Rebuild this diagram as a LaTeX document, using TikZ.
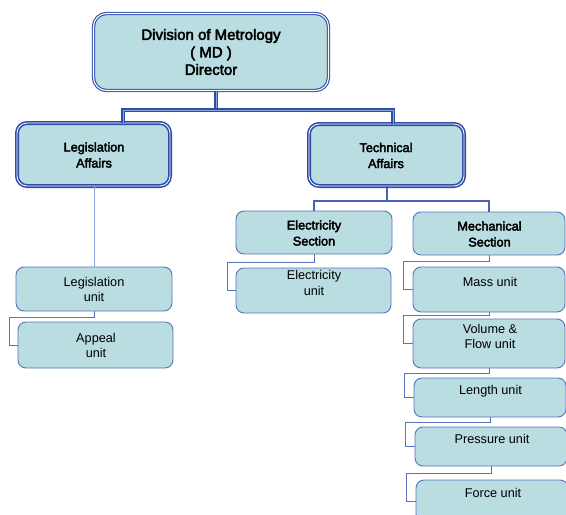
\documentclass[tikz,border=0pt]{standalone}
\usepackage{fontspec}
\setmainfont{Liberation Sans}
\newfontfamily\headfont[FakeBold=3]{Liberation Sans}
\definecolor{boxfill}{HTML}{B9DDE1}
\definecolor{darkedge}{HTML}{2F4DA8}
\definecolor{unitedge}{HTML}{5873BE}
\definecolor{thinlink}{HTML}{8EA6DC}
\definecolor{midlink}{HTML}{4A62B5}
\begin{document}
\begin{tikzpicture}[x=1pt,y=-1pt,
  box/.style={fill=boxfill, inner sep=0pt, outer sep=0pt},
  dirbox/.style={box, draw=darkedge, line width=1.1pt, double=white, double distance=1.1pt, rounded corners=13pt},
  affbox/.style={box, draw=darkedge, line width=1.6pt, double=white, double distance=0.8pt, rounded corners=10pt},
  unitbox/.style={box, draw=unitedge, line width=0.9pt, rounded corners=8pt},
  dirtxt/.style={align=center, inner sep=0pt, font=\headfont\fontsize{15}{17.5}\selectfont},
  headtxt/.style={align=center, inner sep=0pt, font=\headfont\fontsize{12.7}{16}\selectfont},
  txt/.style={align=center, inner sep=0pt, font=\fontsize{12.7}{15.5}\selectfont},
  toplink/.style={draw=darkedge, line width=1.2pt, double=thinlink, double distance=0.8pt},
  seclink/.style={draw=midlink, line width=1.9pt},
  link/.style={draw=unitedge, line width=0.9pt},
  lightlink/.style={draw=thinlink, line width=1pt}]
\useasboundingbox (0,0) rectangle (566,515);

% director and the two affairs
\node[dirbox, minimum width=235pt, minimum height=77pt] (dir) at (211,52) {};
\node[dirtxt] (dirT) at (211,52) {Division of Metrology\\( MD )\\Director};
\node[affbox, minimum width=153pt, minimum height=63pt] (leg) at (93.5,154.5) {};
\node[headtxt] (legT) at (94,155) {Legislation\\Affairs};
\node[affbox, minimum width=155pt, minimum height=62pt] (tech) at (386.5,155) {};
\node[headtxt] (techT) at (386,155.5) {Technical\\Affairs};

% sections
\node[unitbox, minimum width=156pt, minimum height=43pt] (elec) at (314,232.5) {};
\node[headtxt] (elecT) at (314,233) {Electricity\\Section};
\node[unitbox, minimum width=152pt, minimum height=43pt] (mech) at (489,233.5) {};
\node[headtxt] (mechT) at (489.5,234) {Mechanical\\Section};

% legislation units
\node[unitbox, minimum width=156pt, minimum height=44pt] (legu) at (94,289) {};
\node[txt] (leguT) at (94,289.5) {Legislation\\unit};
\node[unitbox, minimum width=155pt, minimum height=46pt] (app) at (95.5,345) {};
\node[txt] (appT) at (96,345.5) {Appeal\\unit};

% electricity unit
\node[unitbox, minimum width=155pt, minimum height=45pt] (elecu) at (313.5,290.5) {};
\node[txt] (elecuT) at (314,283) {Electricity\\unit};

% mechanical units
\node[unitbox, minimum width=152pt, minimum height=45pt] (mass) at (489,289.5) {};
\node[txt] (massT) at (490,281.5) {Mass unit};
\node[unitbox, minimum width=152pt, minimum height=49pt] (vol) at (489,343.5) {};
\node[txt] (volT) at (490,336.5) {Volume \&\\Flow unit};
\node[unitbox, minimum width=152pt, minimum height=39pt] (len) at (490,397.5) {};
\node[txt] (lenT) at (490.5,391) {Length unit};
\node[unitbox, minimum width=152pt, minimum height=39pt] (pres) at (491,446.5) {};
\node[txt] (presT) at (492,439) {Pressure unit};
\node[unitbox, minimum width=152pt, minimum height=42pt] (force) at (492,501) {};
\node[txt] (forceT) at (493,493) {Force unit};

% junction points
\coordinate (xd) at (216,0);
\coordinate (xl) at (123,0);
\coordinate (xt) at (393,0);
\coordinate (jd) at (216,110);
\coordinate (xs) at (387,0);
\coordinate (js) at (387,201);
\coordinate (xla) at (94,0);
\coordinate (k0) at (9,317);
\coordinate (k1) at (227,262);
\coordinate (k2) at (403,261);
\coordinate (k3) at (403,315);
\coordinate (k4) at (404,373);
\coordinate (k5) at (405,422);
\coordinate (k6) at (406,473);

% director to affairs
\draw[toplink] (dir.south -| xd) -- (jd) -| (leg.north -| xl);
\draw[toplink] (jd) -| (tech.north -| xt);
% technical affairs to sections
\draw[seclink] (tech.south -| xs) -- (js) -| (elec.north);
\draw[seclink] (js) -| (mech.north);
% legislation branch
\draw[lightlink] (leg.south -| xla) -- (legu.north -| xla);
\draw[link] (legu.south) |- (k0) |- (app.west);
% electricity branch
\draw[link] (elec.south) |- (k1) |- (elecu.west);
% mechanical branch
\draw[link] (mech.south) |- (k2) |- (mass.west);
\draw[link] (mass.south) |- (k3) |- (vol.west);
\draw[link] (vol.south) |- (k4) |- (len.west);
\draw[link] (len.south) |- (k5) |- (pres.west);
\draw[link] (pres.south) |- (k6) |- (force.west);
\end{tikzpicture}
\end{document}
